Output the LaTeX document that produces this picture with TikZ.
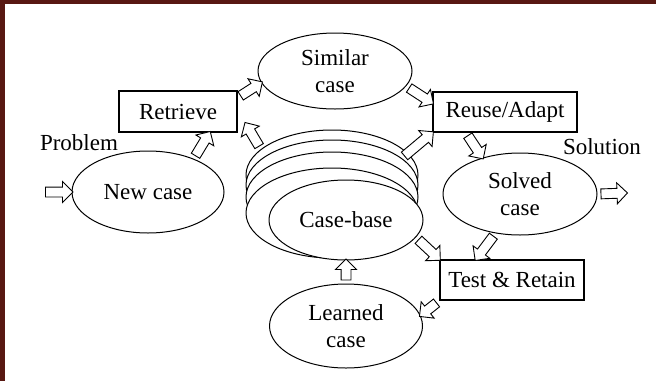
\documentclass[tikz,border=0pt]{standalone}
\usepackage{fontspec}
\setmainfont{Liberation Serif}
\usetikzlibrary{shapes.geometric,shapes.arrows,calc}
\definecolor{framered}{RGB}{88,24,18}
\tikzset{
  lbl/.style={font=\fontsize{23}{27}\selectfont, align=center, inner sep=0pt},
  oval/.style={lbl, ellipse, draw, line width=1pt, fill=white, minimum width=154pt, minimum height=82pt},
  stage/.style={lbl, draw, line width=1.5pt, minimum width=144pt, minimum height=40pt},
  hollow/.style={single arrow, draw, fill=white, line width=0.9pt, inner xsep=0pt, inner ysep=4.5pt, single arrow head extend=5.5pt},
}
\newcommand{\hollowarrow}[2]{%
  \path let \p1=(#1), \p2=(#2), \n1={atan2(\y2-\y1,\x2-\x1)}, \n2={veclen(\x2-\x1,\y2-\y1)-2} in
    node[hollow, rotate=\n1, minimum height=\n2] at ($(#1)!0.5!(#2)$) {};}

\begin{document}
\begin{tikzpicture}[x=1pt,y=-1pt]
  \useasboundingbox (0,0) rectangle (656,381);
  \fill[framered] (0,0) rectangle (656,4);
  \fill[framered] (0,0) rectangle (5,381);
  % stacked case-base
  \foreach \cy [count=\i] in {175,185,197,213}
    \node[oval, minimum width=172pt, minimum height=90pt] (stack\i) at (332,\cy) {};
  \node[oval, minimum height=80pt] (casebase) at (346,220) {Case-base};
  \node[oval, minimum height=76pt] (similar) at (335,71) {Similar\\case};
  \node[oval, minimum width=152pt] (newcase) at (148,192) {New case};
  \node[oval] (solved) at (520,194) {Solved\\case};
  \node[oval, minimum width=153pt, minimum height=84pt] (learned) at (346,326) {Learned\\case};
  \node[stage, minimum width=118pt, minimum height=41pt] (retrieve) at (178,111.5) {Retrieve};
  \node[stage] (reuse) at (505,112) {Reuse/Adapt};
  \node[stage] (test) at (512,280) {Test \& Retain};
  \node[lbl] (problem) at (79,143) {Problem};
  \node[lbl] (solution) at (602,147) {Solution};
  \coordinate (start) at (42,192);
  \coordinate (finish) at (626,193);
  % flow
  \hollowarrow{start}{newcase.west}
  \hollowarrow{newcase.36}{retrieve.-34}
  \hollowarrow{retrieve.13}{similar.189}
  \hollowarrow{similar.-12}{reuse.173}
  \hollowarrow{stack1.160}{[xshift=8pt,yshift=9pt]retrieve.south east}
  \hollowarrow{stack2.21}{reuse.south west}
  \hollowarrow{reuse.-152}{solved.136}
  \hollowarrow{solved.east}{finish}
  \hollowarrow{solved.-122}{test.150}
  \hollowarrow{casebase.-14}{test.north west}
  \hollowarrow{test.south west}{learned.8}
  \hollowarrow{learned.north}{casebase.south}
\end{tikzpicture}
\end{document}
